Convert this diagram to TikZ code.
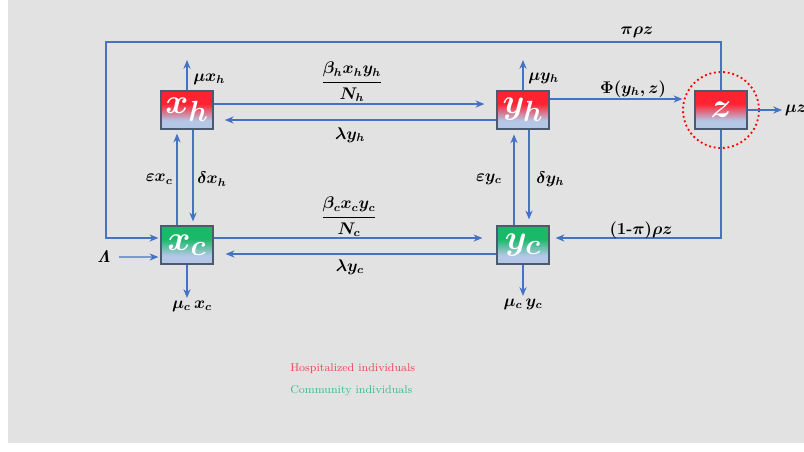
\documentclass[tikz,border=0pt]{standalone}
\usepackage{amsmath}
\usepackage{tikz}
\usetikzlibrary{positioning,arrows.meta}
\definecolor{bgcolor}{RGB}{226,226,226}
\definecolor{flowcolor}{RGB}{68,114,196}
\definecolor{hospcolor}{RGB}{255,35,50}
\definecolor{commcolor}{RGB}{25,185,105}
\definecolor{lowcolor}{RGB}{180,199,231}
\definecolor{edgecolor}{RGB}{75,90,110}
\definecolor{legendred}{RGB}{235,70,85}
\definecolor{legendgreen}{RGB}{55,190,140}
\pgfdeclareverticalshading{hospshade}{100bp}{color(0bp)=(lowcolor); color(36bp)=(lowcolor); color(58bp)=(hospcolor); color(100bp)=(hospcolor)}
\pgfdeclareverticalshading{commshade}{100bp}{color(0bp)=(lowcolor); color(36bp)=(lowcolor); color(58bp)=(commcolor); color(100bp)=(commcolor)}
\tikzset{
    compartment/.style={rectangle, draw=edgecolor, line width=0.9pt, minimum width=1.3cm, minimum height=0.95cm, inner sep=0pt, text=white, font=\fontsize{28}{28}\selectfont\boldmath},
    hosp box/.style={compartment, shade, shading=hospshade},
    comm box/.style={compartment, shade, shading=commshade},
    flow/.style={-{Stealth[length=2.2mm,width=1.8mm]}, line width=0.8pt, flowcolor},
    rate/.style={inner sep=0pt, font=\fontsize{11.5}{14}\selectfont\boldmath},
    legend/.style={inner sep=0pt, font=\footnotesize},
    ring/.style={circle, draw=red, dotted, line width=1.3pt, minimum size=1.9cm}
}

\begin{document}
\begin{tikzpicture}[x=0.25cm, y=-0.25cm]
    % Background
    \useasboundingbox (0,0) rectangle (80.4,45.1);
    \fill[bgcolor] (0.8,0) rectangle (80.4,44.3);

    % Ring round the z compartment
    \node[ring] (zring) at (72.1,11) {};

    % Compartments
    \node[hosp box] (xh) at (18.7,11) {$x_h$};
    \node[hosp box] (yh) at (52.3,11) {$y_h$};
    \node[hosp box] (z) at (72.1,11) {$z$};
    \node[comm box] (xc) at (18.7,24.5) {$x_c$};
    \node[comm box] (yc) at (52.3,24.5) {$y_c$};

    % Horizontal flows
    \draw[flow, shorten >=3mm] ([yshift=1.5mm]xh.east) -- ([yshift=1.5mm]yh.west);
    \draw[flow, shorten >=2.8mm] ([yshift=-2.5mm]yh.west) -- ([yshift=-2.5mm]xh.east);
    \draw[flow, shorten >=3.5mm] ([yshift=1.75mm]xc.east) -- ([yshift=1.75mm]yc.west);
    \draw[flow, shorten >=3mm] ([yshift=-2.25mm]yc.west) -- ([yshift=-2.25mm]xc.east);
    \draw[flow, shorten >=3mm] ([yshift=2.75mm]yh.east) -- ([yshift=2.75mm]z.west);

    % Vertical flows
    \draw[flow, shorten >=1mm] ([xshift=-2.5mm]xc.north) -- ([xshift=-2.5mm]xh.south);
    \draw[flow, shorten >=1mm] ([xshift=1.5mm]xh.south) -- ([xshift=1.5mm]xc.north);
    \draw[flow, shorten >=1.2mm] ([xshift=-2.25mm]yc.north) -- ([xshift=-2.25mm]yh.south);
    \draw[flow, shorten >=1.5mm] ([xshift=1.5mm]yh.south) -- ([xshift=1.5mm]yc.north);

    % Feedback from z
    \draw[flow, shorten >=0.5mm] (z.north) |- (10.6,4.2) |- ([yshift=1.75mm]xc.west);
    \draw[flow, shorten >=1.5mm] (z.south) |- ([yshift=1.75mm]yc.east);

    % Recruitment and removal
    \node[rate] (lam) at (10.4,25.7) {$\mathit{\Lambda}$};
    \draw[flow, shorten <=2mm, shorten >=0.5mm] (lam) -- ([yshift=-3mm]xc.west);
    \coordinate (muxh) at (18.7,6.0);
    \coordinate (muyh) at (52.3,6.0);
    \coordinate (muz) at (78.2,11);
    \draw[flow] (xh.north) -- (muxh);
    \draw[flow] (yh.north) -- (muyh);
    \draw[flow] (z.east) -- (muz);
    \node[rate] (muxc) at (19.2,30.6) {$\mu_c\, x_c$};
    \node[rate] (muyc) at (52.3,30.4) {$\mu_c\, y_c$};
    \draw[flow, shorten >=0.6mm] (xc.south) -- (xc.south |- muxc.north);
    \draw[flow, shorten >=0.6mm] (yc.south) -- (yc.south |- muyc.north);

    % Rate labels
    \node[rate] at (35.2,8.2) {$\dfrac{\beta_h x_h y_h}{N_h}$};
    \node[rate] at (35.0,13.5) {$\lambda y_h$};
    \node[rate] at (34.9,21.7) {$\dfrac{\beta_c x_c y_c}{N_c}$};
    \node[rate] at (35.0,26.7) {$\lambda y_c$};
    \node[rate, anchor=west] at (19.3,7.9) {$\mu x_h$};
    \node[rate, anchor=west] at (52.8,7.8) {$\mu y_h$};
    \node[rate, anchor=west] at (78.45,11) {$\mu z$};
    \node[rate] at (63.3,8.9) {$\Phi(y_h, z)$};
    \node[rate] at (63.7,3.2) {$\pi\rho z$};
    \node[rate] at (64.1,23.0) {$(1\textbf{-}\pi)\rho z$};
    \node[rate, anchor=east] at (17.3,17.9) {$\varepsilon x_c$};
    \node[rate, anchor=west] at (19.7,17.9) {$\delta x_h$};
    \node[rate, anchor=east] at (50.2,17.9) {$\varepsilon y_c$};
    \node[rate, anchor=west] at (53.6,17.9) {$\delta y_h$};

    % Legend
    \node[legend, anchor=west, text=legendred] (hosp) at (29.0,36.9) {Hospitalized individuals};
    \node[legend, anchor=west, text=legendgreen] (comm) at (29.0,39.1) {Community individuals};
\end{tikzpicture}
\end{document}
